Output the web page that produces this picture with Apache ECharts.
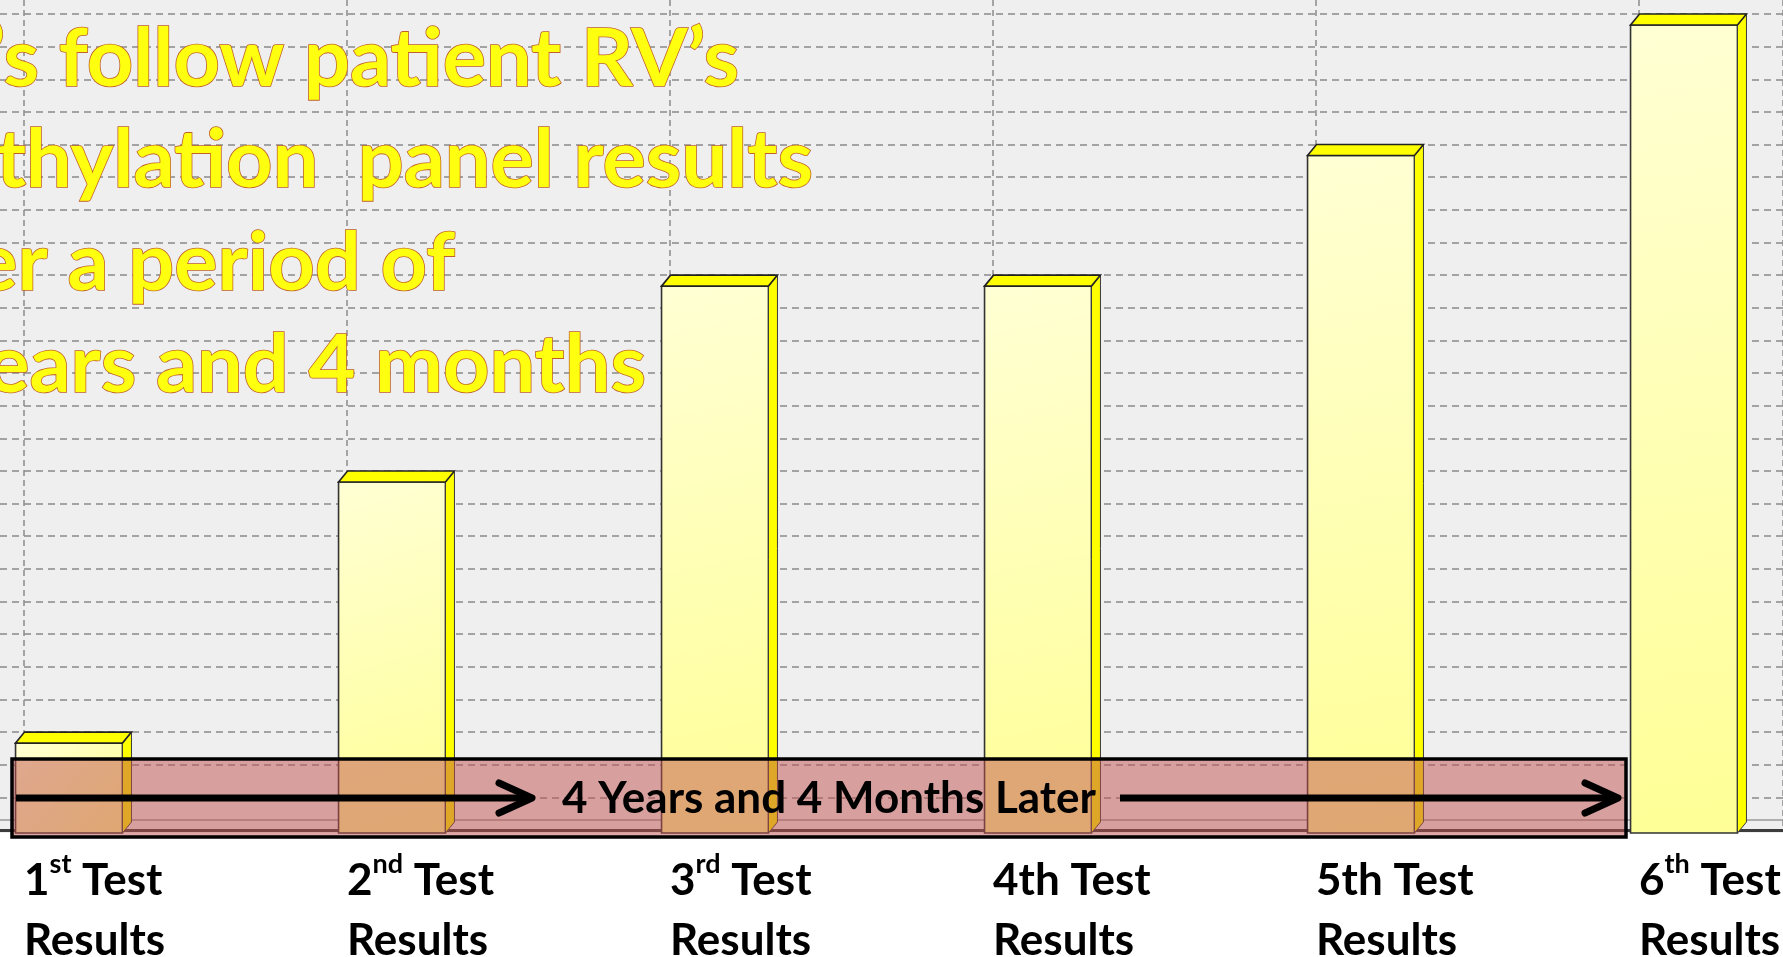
<!DOCTYPE html>
<html>
<head>
<meta charset="utf-8">
<title>Patient RV methylation panel</title>
<script src="https://cdn.jsdelivr.net/npm/echarts@6/dist/echarts.min.js"></script>
<style>
html,body{margin:0;padding:0;background:#fff;}
#main{width:1783px;height:957px;}
</style>
</head>
<body>
<div id="main"></div>
<script>
//类别(上标用rich标签)
var categories = [
	'1{sup|st} Test\nResults',
	'2{sup|nd} Test\nResults',
	'3{sup|rd} Test\nResults',
	'4th Test\nResults',
	'5th Test\nResults',
	'6{sup|th} Test\nResults'
];
//每次检测的结果
var values = [3, 11, 17, 17, 21, 25];
//纵轴刻度
var yMin = 0, yMax = 25, yStep = 1;
//标题文字(左边被裁掉)
var titleLines = [
	'Let\u2019s follow patient RV\u2019s',
	'Methylation  panel results',
	'over a period of',
	'4 years and 4 months'
];
var spanText = '4 Years and 4 Months Later';

//版面位置
var titleRight = [739, 813, 455, 646];
var titleY = [60, 161, 264, 366];
var step = 323;          //每个柱子占的像素
var barShift = 69;       //第一个柱子中心
var lineShift = 24;      //第一条竖虚线

var myChart = echarts.init(document.getElementById('main'));

var frontGrad = new echarts.graphic.LinearGradient(0, 0, 1, 1, [
	{offset: 0, color: '#ffffd4'},
	{offset: 1, color: '#ffff96'}
]);

/**
 * 画一个3D柱子(正面、侧面、顶面)
 */
function renderBar(params, api){
	var idx = api.value(0);
	var top = api.coord([idx, api.value(1)]);
	var base = api.coord([idx, 0]);
	var w = api.size([1, 0])[0] * 0.331;
	var dx = 9, dy = 11;
	var x0 = top[0] - w / 2, x1 = top[0] + w / 2;
	var yt = top[1] + dy, yb = base[1] + 3;
	return {
		type: 'group',
		children: [
			{type: 'rect', shape: {x: x0, y: yt, width: w, height: yb - yt},
				style: {fill: frontGrad, stroke: '#333', lineWidth: 1.6}},
			{type: 'polygon', shape: {points: [[x1, yt], [x1 + dx, yt - dy], [x1 + dx, yb - dy], [x1, yb]]},
				style: {fill: '#ffff00', stroke: '#3a3a3a', lineWidth: 1}},
			{type: 'polygon', shape: {points: [[x0, yt], [x0 + dx, yt - dy], [x1 + dx, yt - dy], [x1, yt]]},
				style: {fill: '#ffff00', stroke: '#222', lineWidth: 1.6}}
		]
	};
}

function arrow(xs, xe, y){
	return [
		{type: 'polyline', z: 51, shape: {points: [[xs, y], [xe - 3, y]]},
			style: {stroke: '#000', lineWidth: 7, fill: null}},
		{type: 'polyline', z: 51, shape: {points: [[xe - 33, y - 15], [xe, y], [xe - 33, y + 15]]},
			style: {stroke: '#000', lineWidth: 7, fill: null, lineCap: 'round', lineJoin: 'round'}}
	];
}

var graphics = [
	//地板后沿
	{type: 'line', z: 0, shape: {x1: 0, y1: 820, x2: 1783, y2: 820}, style: {stroke: '#9a9a9a', lineWidth: 1.5}},
	//半透明框
	{type: 'rect', z: 50, shape: {x: 12, y: 759, width: 1614, height: 78},
		style: {fill: 'rgba(192,80,77,0.5)', stroke: '#000', lineWidth: 3.5}},
	{type: 'text', z: 52, style: {text: spanText, x: 829, y: 799, align: 'center', verticalAlign: 'middle',
		font: 'bold 44px Lato', fill: '#000'}}
].concat(arrow(16, 532, 798)).concat(arrow(1120, 1618, 798));

titleLines.forEach(function(t, i){
	graphics.push({
		type: 'text', z: 60,
		style: {
			text: t, x: titleRight[i], y: titleY[i], align: 'right', verticalAlign: 'middle',
			font: 'bold 81px Lato', fill: '#ffff10', stroke: '#c0602a', lineWidth: 1.6,
			shadowColor: 'rgba(0,0,0,0.35)', shadowBlur: 5, shadowOffsetX: 3, shadowOffsetY: 3
		}
	});
});

var W = 1783;
var option = {
	backgroundColor: new echarts.graphic.LinearGradient(0, 0, 0, 1, [
		{offset: 0, color: '#efefef'},
		{offset: 0.8705, color: '#efefef'},
		{offset: 0.8705, color: '#ffffff'},
		{offset: 1, color: '#ffffff'}
	]),
	animation: false,
	grid: [
		{left: 0, right: 0, top: 14, height: 816, containLabel: false, outerBoundsMode: 'none'},
		{left: lineShift, right: 0, top: 0, height: 830, containLabel: false, outerBoundsMode: 'none'}
	],
	xAxis: [{
		type: 'value', gridIndex: 0,
		min: -barShift / step, max: (W - barShift) / step,
		offset: 2,
		axisLine: {show: true, lineStyle: {color: '#3c3c3c', width: 3}},
		axisTick: {show: false},
		axisLabel: {show: false},
		splitLine: {show: false}
	}, {
		type: 'value', gridIndex: 1, min: 0, max: (W - lineShift) / step, interval: 1,
		axisLine: {show: false},
		axisTick: {show: false},
		splitLine: {show: true, lineStyle: {color: '#8c8c8c', width: 1.5, type: [6, 4]}},
		axisLabel: {
			show: true, margin: 21, align: 'left', showMaxLabel: false,
			fontFamily: 'Lato', fontWeight: 'bold', fontSize: 44, lineHeight: 60, color: '#000',
			formatter: function(v){ return categories[v] || ''; },
			rich: {
				sup: {fontFamily: 'Lato', fontWeight: 'bold', fontSize: 27, lineHeight: 46,
					verticalAlign: 'top', color: '#000'}
			}
		}
	}],
	yAxis: [{
		type: 'value', gridIndex: 0, min: yMin, max: yMax, interval: yStep,
		axisLine: {show: false},
		axisTick: {show: false},
		axisLabel: {show: false},
		splitLine: {show: true, lineStyle: {color: '#a3a3a3', width: 2, type: [7, 5]}}
	}, {
		type: 'value', gridIndex: 1, show: false
	}],
	series: [{
		type: 'custom',
		xAxisIndex: 0, yAxisIndex: 0,
		renderItem: renderBar,
		data: values.map(function(v, i){ return [i, v]; })
	}],
	graphic: graphics
};
myChart.setOption(option);
</script>
</body>
</html>
